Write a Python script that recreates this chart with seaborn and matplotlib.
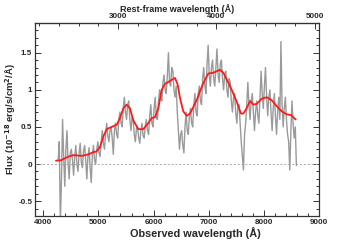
import numpy as np
import pandas as pd
import matplotlib
matplotlib.use('Agg')
import matplotlib.pyplot as plt
from matplotlib.ticker import MultipleLocator
import seaborn as sns

# observed spectrum (grey), 20 A steps from 4270 A
spec_start = 4270
spec_step = 20
spec_flux = [0.05, 0.30, -0.80, -0.20, 0.60, 0.10, -0.30, 0.20, 0.45, 0.00,
             -0.20, 0.15, 0.20, 0.05, -0.15, 0.10, 0.25, 0.00, -0.10, 0.15,
             0.28, 0.02, -0.05, 0.18, 0.25, 0.05, -0.20, 0.10, 0.22, -0.05,
             -0.25, 0.12, 0.25, 0.05, 0.00, 0.20, 0.30, 0.15, 0.10, 0.30,
             0.45, 0.28, 0.20, 0.40, 0.55, 0.38, 0.30, 0.45, 0.50, 0.35,
             0.13, 0.45, 0.55, 0.40, 0.35, 0.60, 0.70, 0.55, 0.50, 0.75,
             0.90, 0.70, 0.60, 0.80, 0.85, 0.60, 0.45, 0.62, 0.60, 0.40,
             0.30, 0.48, 0.50, 0.35, 0.28, 0.45, 0.55, 0.38, 0.35, 0.52,
             0.60, 0.45, 0.40, 0.65, 0.80, 0.55, 0.50, 0.75, 0.90, 0.62,
             0.60, 0.85, 1.00, 0.90, 0.85, 1.10, 1.20, 1.00, 0.95, 1.20,
             1.50, 1.10, 1.05, 1.30, 1.25, 1.00, 0.90, 1.05, 0.70, 0.45,
             0.20, 0.40, 0.45, 0.25, 0.15, 0.50, 0.70, 0.45, 0.40, 0.65,
             0.75, 0.55, 0.50, 0.80, 0.95, 0.70, 0.65, 0.95, 1.05, 0.85,
             0.80, 1.15, 1.30, 1.05, 0.95, 1.35, 1.60, 1.20, 1.05, 1.30,
             1.40, 1.15, 1.05, 1.30, 1.55, 1.20, 1.10, 1.35, 1.40, 1.15,
             1.00, 1.20, 1.25, 1.00, 0.90, 1.15, 1.10, 0.85, 0.70, 0.90,
             0.95, 0.70, 0.55, 0.78, 0.80, 0.55, 0.30, 0.10, -0.08, 0.40,
             0.55, 0.80, 1.10, 0.80, 0.60, 0.85, 0.95, 0.70, 0.45, 0.70,
             0.85, 0.65, 0.55, 0.90, 1.25, 0.95, 0.75, 1.05, 1.30, 0.90,
             0.65, 0.90, 1.00, 0.70, 0.45, 0.75, 0.95, 0.65, 0.40, 0.70,
             0.90, 0.60, 1.65, 0.80, 0.50, 0.75, 0.90, 0.60, 0.40, 0.30,
             -0.08, 0.45, 0.85, 0.55, 0.35, 0.50, -0.02]
spec_wave = spec_start + spec_step * np.arange(len(spec_flux))

# smoothed model (red)
model_wave = [4230, 4320, 4454, 4545, 4697, 4817, 4907, 4968, 5029, 5089,
              5150, 5241, 5332, 5391, 5451, 5512, 5573, 5632, 5723, 5814,
              5904, 5965, 6026, 6086, 6147, 6207, 6298, 6389, 6437, 6479,
              6539, 6600, 6661, 6721, 6782, 6842, 6902, 6993, 7083, 7205,
              7265, 7326, 7417, 7507, 7585, 7627, 7688, 7749, 7809, 7870,
              7961, 8051, 8142, 8233, 8323, 8414, 8492, 8577]
model_flux = [0.045, 0.05, 0.10, 0.12, 0.11, 0.13, 0.16, 0.17, 0.23, 0.37,
              0.47, 0.50, 0.53, 0.62, 0.75, 0.80, 0.75, 0.59, 0.47, 0.47,
              0.55, 0.62, 0.63, 0.75, 1.00, 1.08, 1.12, 1.16, 1.07, 0.89,
              0.71, 0.65, 0.68, 0.77, 0.86, 0.98, 1.09, 1.22, 1.23, 1.27,
              1.23, 1.14, 1.00, 0.84, 0.68, 0.68, 0.75, 0.85, 0.80, 0.81,
              0.88, 0.90, 0.86, 0.78, 0.71, 0.67, 0.66, 0.60]

one_plus_z = 1.785

spec = pd.DataFrame({'wave': spec_wave, 'flux': spec_flux})
model = pd.DataFrame({'wave': model_wave, 'flux': model_flux})

sns.set_style('ticks')
plt.rcParams['font.family'] = ['Liberation Sans', 'DejaVu Sans']
plt.rcParams['font.weight'] = 'bold'

fig = plt.figure(figsize=(3.55, 2.40), dpi=100)
ax = fig.add_axes([35/355, 24/240, 284/355, 193/240])

ax.axhline(0, color='#aaaaaa', lw=0.7, ls=(0, (2, 2)), zorder=1)
sns.lineplot(data=spec, x='wave', y='flux', ax=ax, color='#9a9a9a', lw=1.0,
             estimator=None, sort=False, zorder=2)
sns.lineplot(data=model, x='wave', y='flux', ax=ax, color='#ff1a1a', lw=1.3,
             estimator=None, sort=False, zorder=3)

ax.set_xlim(3850, 9000)
ax.set_ylim(-0.7, 1.9)
ax.xaxis.set_major_locator(MultipleLocator(1000))
ax.xaxis.set_minor_locator(MultipleLocator(200))
ax.yaxis.set_minor_locator(MultipleLocator(0.1))
ax.set_yticks([-0.5, 0, 0.5, 1, 1.5])
ax.set_yticklabels(['-0.5', '0', '0.5', '1', '1.5'])

ax.set_xlabel('Observed wavelength (Å)', fontsize=7.8, fontweight='bold')
ax.xaxis.set_label_coords(0.565, -0.057)
ax.set_ylabel('Flux (10$^{-18}$ erg/s/cm$^2$/Å)', fontsize=6.8, fontweight='bold',
              labelpad=0.5)

for s in ax.spines.values():
    s.set_color('#333333')
    s.set_linewidth(0.9)
ax.tick_params(which='both', direction='in', labelsize=5.8, width=0.7,
               color='#333333', pad=2, right=True)
ax.tick_params(which='major', length=4)
ax.tick_params(which='minor', length=2)
for lab in ax.get_xticklabels() + ax.get_yticklabels():
    lab.set_fontweight('bold')

top = ax.secondary_xaxis('top', functions=(lambda w: w / one_plus_z,
                                           lambda w: w * one_plus_z))
top.xaxis.set_major_locator(MultipleLocator(1000))
top.xaxis.set_minor_locator(MultipleLocator(200))
top.tick_params(which='both', direction='in', labelsize=5.8, width=0.7,
                color='#333333', pad=2)
top.tick_params(which='major', length=4)
top.tick_params(which='minor', length=2)
top.set_xlabel('Rest-frame wavelength (Å)', fontsize=6.5, fontweight='bold',
               labelpad=1)
for lab in top.get_xticklabels():
    lab.set_fontweight('bold')

fig.savefig('out.png', dpi=100)
